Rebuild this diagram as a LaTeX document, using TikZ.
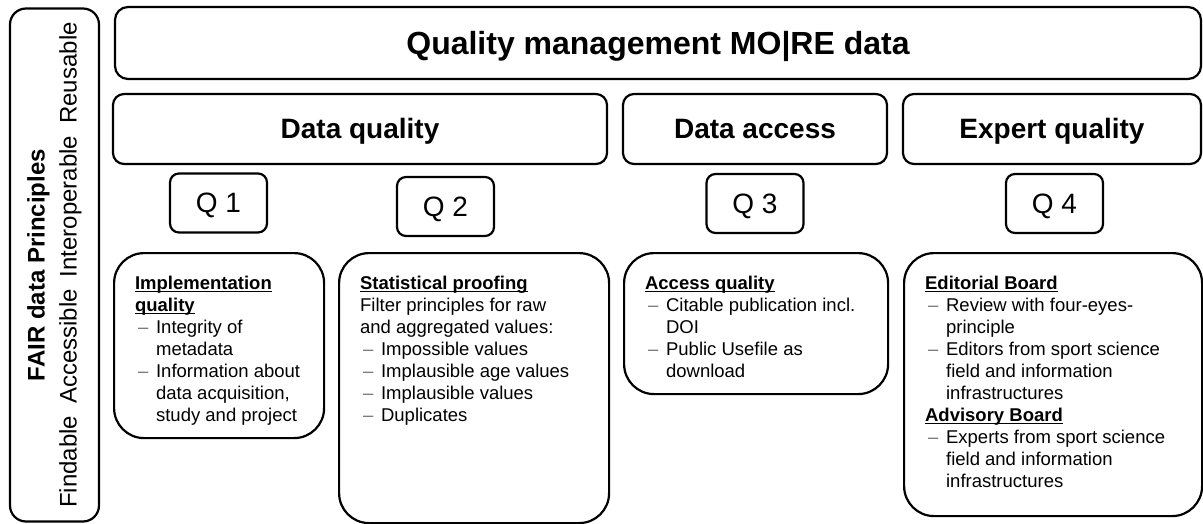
\documentclass[tikz,border=0pt]{standalone}
\usepackage{fontspec}
\setmainfont{Liberation Sans}
\usepackage{tikz}
\usetikzlibrary{positioning}
\tikzset{
        frame/.style = {draw, line width=2.2pt, inner sep=0pt},
        block/.style = {frame, rounded corners=11pt,
            minimum height=70pt,
            text height=20pt, text depth=0pt,
            font=\fontsize{28}{32}\selectfont\bfseries},
        qbox/.style = {frame, rounded corners=9pt,
            minimum width=97pt,
            minimum height=59pt,
            text height=20pt, text depth=0pt,
            font=\fontsize{28}{32}\selectfont},
        panel/.style = {frame, rounded corners=30pt, anchor=north west,
            inner xsep=21pt,
            font=\fontsize{18.5}{22}\selectfont},
    }
\newcommand{\dsh}{\makebox[21pt][l]{\hspace{3pt}\textcolor{black!55}{–}}}
\newcommand{\ind}{\hspace*{21pt}}
\newcommand{\hd}[1]{\textbf{\setbox0\hbox{#1}\rlap{\rule[-2.6pt]{\wd0}{1.3pt}}\box0}}
\newcommand{\panelbox}[3]{\parbox[c][#1][t]{#2}{\raggedright\vspace*{23pt}#3}}

\begin{document}
\begin{tikzpicture}[x=1pt,y=-1pt]
    \useasboundingbox (0,0) rectangle (1203,524);

    \node[frame, rounded corners=16pt, rotate=90, minimum width=513pt, minimum height=89pt,
          align=center, font=\fontsize{24}{32}\selectfont] (fair) at (54.5,265)
          {\textbf{FAIR data Principles}\\Findable\hspace{12pt}Accessible\hspace{12pt}Interoperable\hspace{12pt}Reusable};

    \node[block, rounded corners=13pt, minimum width=1086pt, minimum height=72pt,
          text height=23pt, font=\fontsize{32}{36}\selectfont\bfseries] (top) at (658,43) {Quality management MO|RE data};

    \node[block, minimum width=494pt] (h1) at (360,129) {Data quality};
    \node[block, minimum width=264pt] (h2) at (755,129) {Data access};
    \node[block, minimum width=298pt] (h3) at (1052,129) {Expert quality};

    \node[qbox] (q1) at (218.5,203) {Q 1};
    \node[qbox] (q2) at (445.5,206.5) {Q 2};
    \node[qbox] (q3) at (755,203.5) {Q 3};
    \node[qbox] (q4) at (1054.5,203.5) {Q 4};

    \node[panel] (p1) at (113,252) {\panelbox{185pt}{168pt}{%
        \hd{Implementation}\\
        \hd{quality}\\
        \dsh Integrity of\\
        \ind metadata\\
        \dsh Information about\\
        \ind data acquisition,\\
        \ind study and project}};
    \node[panel] (p2) at (338,252) {\panelbox{270pt}{228pt}{%
        \hd{Statistical proofing}\\
        Filter principles for raw\\
        and aggregated values:\\
        \dsh Impossible values\\
        \dsh Implausible age values\\
        \dsh Implausible values\\
        \dsh Duplicates}};
    \node[panel] (p3) at (623,252) {\panelbox{141pt}{222pt}{%
        \hd{Access quality}\\
        \dsh Citable publication incl.\\
        \ind DOI\\
        \dsh Public Usefile as\\
        \ind download}};
    \node[panel] (p4) at (903,252) {\panelbox{263pt}{256pt}{%
        \hd{Editorial Board}\\
        \dsh Review with four-eyes-\\
        \ind principle\\
        \dsh Editors from sport science\\
        \ind field and information\\
        \ind infrastructures\\
        \hd{Advisory Board}\\
        \dsh Experts from sport science\\
        \ind field and information\\
        \ind infrastructures}};
\end{tikzpicture}
\end{document}
